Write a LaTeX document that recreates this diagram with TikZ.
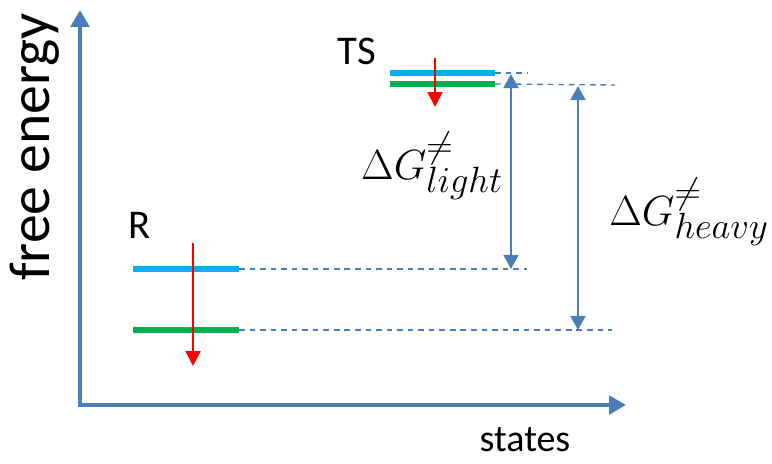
\RequirePackage{fix-cm}
\documentclass[tikz,border=0pt]{standalone}
\usepackage{fontspec}
\setmainfont{Carlito}
\usetikzlibrary{arrows.meta,positioning}
\definecolor{axisblue}{HTML}{4A7EBB}
\definecolor{levelblue}{HTML}{00B0F0}
\definecolor{levelgreen}{HTML}{00B050}
\DeclareMathSizes{30}{30}{26}{20}

\begin{document}
\begin{tikzpicture}[x=0.025cm, y=-0.025cm,
    axis/.style={draw=axisblue, line width=3.5pt, -{Triangle[width=13pt,length=12pt]}},
    level/.style={line width=4.6pt},
    guide/.style={draw=axisblue, line width=1pt, dash pattern=on 4pt off 3.5pt},
    gap/.style={draw=axisblue, line width=1.8pt, {Triangle[width=10.5pt,length=10pt]}-{Triangle[width=10.5pt,length=10pt]}},
    zpe/.style={draw=red, line width=1.4pt, -{Triangle[width=10.5pt,length=10.5pt]}},
    lbl/.style={inner sep=0pt}]
    \useasboundingbox (0,0) rectangle (772,464);

    % axes
    \coordinate (origin) at (80,405);
    \coordinate (ytop) at (80,10);
    \coordinate (xend) at (626,405);
    \draw [axis] (80,407) -- (ytop);
    \draw [axis] (78,405) -- (xend);
    \node [lbl, rotate=90, font=\fontsize{41}{44}\selectfont] (ylabel) at (35,147) {free energy};
    \node [lbl, font=\fontsize{27}{30}\selectfont] (xlabel) at (525,440) {states};

    % reactant levels
    \coordinate (rbl) at (133,269);
    \coordinate (rbr) at (239,269);
    \coordinate (rgl) at (133,330);
    \coordinate (rgr) at (239,330);
    \node [lbl, font=\fontsize{29}{32}\selectfont] (R) at (140,225) {R};

    % transition state levels
    \coordinate (tbl) at (390,73);
    \coordinate (tbr) at (495,73);
    \coordinate (tgl) at (390,84);
    \coordinate (tgr) at (495,84);
    \node [lbl, font=\fontsize{29}{32}\selectfont] (TS) at (357,51) {TS};

    % dashed guides
    \coordinate (tbend) at (527,73);
    \coordinate (tgend) at (615,85);
    \coordinate (rbend) at (527,269);
    \coordinate (rgend) at (612,330);
    \draw [guide] (tbr) -- (tbend);
    \draw [guide] (tgr) -- (tgend);
    \draw [guide] (rbr) -- (rbend);
    \draw [guide] (rgr) -- (rgend);

    \draw [level, levelblue] (rbl) -- (rbr);
    \draw [level, levelgreen] (rgl) -- (rgr);
    \draw [level, levelblue, line width=3.8pt] (tbl) -- (tbr);
    \draw [level, levelgreen, line width=3.8pt] (tgl) -- (tgr);

    % zero point shifts
    \coordinate (rs1) at (193,243);
    \coordinate (rs2) at (193,366);
    \coordinate (ts1) at (435,58);
    \coordinate (ts2) at (435,107);
    \draw [zpe] (rs1) -- (rs2);
    \draw [zpe] (ts1) -- (ts2);

    % barriers
    \coordinate (la) at (511,74);
    \coordinate (lb) at (511,269);
    \coordinate (ha) at (578,86);
    \coordinate (hb) at (578,330);
    \draw [gap] (la) -- (lb);
    \draw [gap] (ha) -- (hb);
    \node [lbl, font=\fontsize{30}{34}\selectfont] (glight) at (432,166) {$\Delta G^{\neq}_{light}$};
    \node [lbl, font=\fontsize{30}{34}\selectfont] (gheavy) at (689,212) {$\Delta G^{\neq}_{heavy}$};
\end{tikzpicture}
\end{document}
